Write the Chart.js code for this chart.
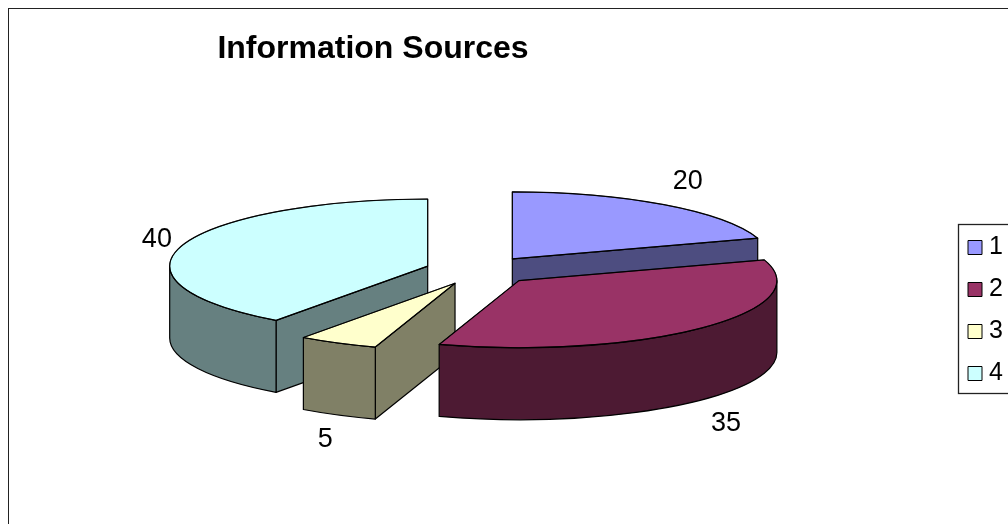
<!DOCTYPE html>
<html lang="en">
<head>
    <meta charset="UTF-8">
    <title>Information Sources</title>
    <script src="https://cdn.jsdelivr.net/npm/chart.js"></script>
    <style>
        html { overflow: hidden; background: #fff; }
        body { margin: 8px; width: 1060px; height: 570px; }
        canvas { display: block; }
    </style>
</head>
<body>
    <canvas id="pieChart" width="1060" height="570"></canvas>

    <script>
        const categories = ["1", "2", "3", "4"];
        const values = [20, 35, 5, 40];
        const topColors = ["#9999FF", "#993366", "#FFFFCC", "#CCFFFF"];
        const wallColors = ["#4D4D80", "#4D1A33", "#808066", "#668080"];

        // painter's order, back to front
        const drawOrder = [0, 3, 2, 1];

        // fake 3D view, in canvas pixels
        const centerX = 472, centerY = 262.5;
        const squash = 0.26, depth = 72, explode = 55;
        const labelGap = 32;
        const labelNudgeX = [5, 2, 2, 5];
        const labelNudgeY = [3, 1, -4, 4];

        function project(arc, angle) {
            const mid = (arc.startAngle + arc.endAngle) / 2;
            const ox = centerX + explode * Math.cos(mid);
            const oy = centerY + explode * squash * Math.sin(mid);
            return {
                ox, oy,
                x: ox + arc.outerRadius * Math.cos(angle),
                y: oy + arc.outerRadius * squash * Math.sin(angle)
            };
        }

        function strokeFill(ctx, color) {
            ctx.fillStyle = color;
            ctx.fill();
            ctx.stroke();
        }

        function drawSideFace(ctx, arc, angle, color) {
            const p = project(arc, angle);
            ctx.beginPath();
            ctx.moveTo(p.ox, p.oy);
            ctx.lineTo(p.x, p.y);
            ctx.lineTo(p.x, p.y + depth);
            ctx.lineTo(p.ox, p.oy + depth);
            ctx.closePath();
            strokeFill(ctx, color);
        }

        function drawOuterWall(ctx, arc, color) {
            const from = Math.max(arc.startAngle, 0);
            const to = Math.min(arc.endAngle, Math.PI);
            if (to <= from) return;
            const p = project(arc, from);
            const q = project(arc, to);
            const r = arc.outerRadius;
            ctx.beginPath();
            ctx.ellipse(p.ox, p.oy, r, r * squash, 0, from, to);
            ctx.lineTo(q.x, q.y + depth);
            ctx.ellipse(p.ox, p.oy + depth, r, r * squash, 0, to, from, true);
            ctx.closePath();
            strokeFill(ctx, color);
        }

        function drawTop(ctx, arc) {
            const p = project(arc, arc.startAngle);
            ctx.save();
            ctx.translate(p.ox, p.oy);
            ctx.scale(1, squash);
            ctx.translate(-arc.x, -arc.y);
            arc.draw(ctx);
            ctx.restore();

            ctx.beginPath();
            ctx.moveTo(p.ox, p.oy);
            ctx.lineTo(p.x, p.y);
            ctx.ellipse(p.ox, p.oy, arc.outerRadius, arc.outerRadius * squash, 0, arc.startAngle, arc.endAngle);
            ctx.closePath();
            ctx.stroke();
        }

        const pie3d = {
            id: "pie3d",
            beforeDraw(chart) {
                const ctx = chart.ctx;
                ctx.save();
                ctx.fillStyle = "#fff";
                ctx.fillRect(0, 0, chart.width, chart.height);
                ctx.strokeStyle = "#222";
                ctx.lineWidth = 1.5;
                ctx.strokeRect(0.25, 0.25, chart.width, chart.height);
                ctx.restore();
            },
            afterLayout(chart) {
                // title sits left of centre, legend hangs off the right edge
                chart.titleBlock.left = 0;
                chart.titleBlock.right = 730;
                const lg = chart.legend;
                lg.left = 943;
                lg.right = 995;
                lg.top = 210;
                lg.bottom = 500;
            },
            afterDraw(chart) {
                const ctx = chart.ctx;
                ctx.save();
                ctx.strokeStyle = "#222";
                ctx.lineWidth = 1.3;
                ctx.strokeRect(950.5, 216.5, 80, 169);
                ctx.restore();
            },
            beforeDatasetsDraw(chart) {
                const ctx = chart.ctx;
                const arcs = chart.getDatasetMeta(0).data;
                ctx.save();
                ctx.strokeStyle = "#000";
                ctx.lineWidth = 1.2;
                ctx.lineJoin = "round";

                drawOrder.forEach(i => {
                    const arc = arcs[i];
                    if (Math.cos(arc.endAngle) > 1e-6) {
                        drawSideFace(ctx, arc, arc.endAngle, wallColors[i]);
                    }
                    if (Math.cos(arc.startAngle) < -1e-6) {
                        drawSideFace(ctx, arc, arc.startAngle, wallColors[i]);
                    }
                    drawOuterWall(ctx, arc, wallColors[i]);
                    drawTop(ctx, arc);
                });

                // value labels
                ctx.fillStyle = "#000";
                ctx.font = "27px 'Liberation Sans'";
                ctx.textAlign = "center";
                ctx.textBaseline = "middle";
                arcs.forEach((arc, i) => {
                    const mid = (arc.startAngle + arc.endAngle) / 2;
                    const p = project(arc, mid);
                    const drop = Math.sin(mid) > 0 ? depth : 0;
                    ctx.fillText(String(values[i]),
                        p.x + labelNudgeX[i] + labelGap * Math.cos(mid),
                        p.y + labelNudgeY[i] + drop + labelGap * Math.sin(mid));
                });
                ctx.restore();
                return false;
            }
        };

        new Chart(document.getElementById("pieChart"), {
            type: "pie",
            data: {
                labels: categories,
                datasets: [{
                    data: values,
                    backgroundColor: topColors,
                    borderColor: "#000",
                    borderWidth: 1,
                    radius: 258
                }]
            },
            plugins: [pie3d],
            options: {
                responsive: false,
                animation: false,
                plugins: {
                    title: {
                        display: true,
                        text: "Information Sources",
                        color: "#000",
                        font: { family: "'Liberation Sans'", size: 32, weight: "bold" },
                        padding: { top: 22, bottom: 10 }
                    },
                    legend: {
                        position: "right",
                        align: "start",
                        labels: {
                            color: "#000",
                            boxWidth: 14,
                            boxHeight: 14,
                            padding: 17,
                            textAlign: "right",
                            font: { family: "'Liberation Sans'", size: 25 }
                        }
                    },
                    tooltip: { enabled: false }
                }
            }
        });
    </script>
</body>
</html>
